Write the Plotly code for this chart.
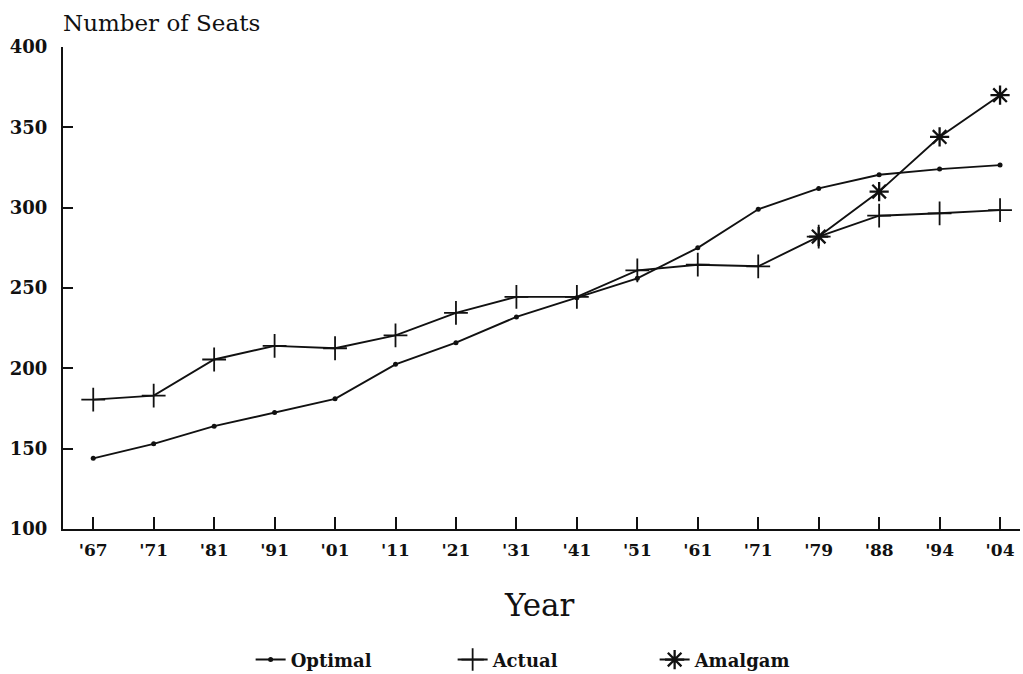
import plotly.graph_objects as go

years = ["1867", "1871", "1881", "1891", "1901", "1911", "1921", "1931",
         "1941", "1951", "1961", "1971", "1979", "1988", "1994", "2004"]
tick_labels = ["'67", "'71", "'81", "'91", "'01", "'11", "'21", "'31",
               "'41", "'51", "'61", "'71", "'79", "'88", "'94", "'04"]
optimal = [144, 153, 164, 172.5, 181, 202.5, 216, 232, 244, 256, 275, 299,
           312, 320.5, 324, 326.5]
actual = [180.5, 183, 205.5, 214, 212.5, 220.5, 234.5, 244.5, 244.5, 261,
          264.5, 263.5, 282, 295, 296.5, 298.5]
amalgam_years = ["1979", "1988", "1994", "2004"]
amalgam = [282, 310, 344, 370]

FONT = "DejaVu Serif"
BLACK = "#111111"

fig = go.Figure()
fig.add_trace(go.Scatter(
    x=years, y=optimal, name="Optimal", mode="lines+markers",
    line=dict(color=BLACK, width=1.9),
    marker=dict(symbol="circle", size=5, color=BLACK),
))
fig.add_trace(go.Scatter(
    x=years, y=actual, name="Actual", mode="lines+markers",
    line=dict(color=BLACK, width=1.9),
    marker=dict(symbol="cross-thin-open", size=17, color=BLACK,
                line=dict(color=BLACK, width=1.8)),
))
fig.add_trace(go.Scatter(
    x=amalgam_years, y=amalgam, name="Amalgam", mode="lines+markers",
    line=dict(color=BLACK, width=1.9),
    marker=dict(symbol="asterisk-open", size=16, color=BLACK,
                line=dict(color=BLACK, width=2.3)),
))

fig.update_layout(
    width=1023, height=674,
    margin=dict(l=63, r=3, t=47, b=145, autoexpand=False),
    paper_bgcolor="white", plot_bgcolor="white",
    font=dict(family=FONT, color=BLACK),
    showlegend=True,
    legend=dict(
        orientation="h", xref="container", yref="container",
        x=0.245, xanchor="left", y=0.021, yanchor="middle",
        font=dict(family=FONT, size=18, color=BLACK, weight="bold"),
        entrywidth=157, entrywidthmode="pixels", bgcolor="rgba(0,0,0,0)",
        traceorder="normal",
    ),
    xaxis=dict(
        type="category", categoryorder="array", categoryarray=years,
        range=[-0.5, 15.33],
        tickmode="array", tickvals=years, ticktext=tick_labels,
        ticks="inside", ticklen=12, tickwidth=1.8, tickcolor=BLACK,
        showline=True, linecolor=BLACK, linewidth=2,
        showgrid=False, zeroline=False,
        tickfont=dict(family=FONT, size=17, color=BLACK, weight="bold"),
        ticklabelstandoff=5,
    ),
    yaxis=dict(
        range=[100, 400], tickmode="array", tickvals=[100, 150, 200, 250, 300, 350, 400],
        ticks="inside", ticklen=10, tickwidth=1.8, tickcolor=BLACK,
        showline=True, linecolor=BLACK, linewidth=2,
        showgrid=False, zeroline=False,
        tickfont=dict(family=FONT, size=18, color=BLACK, weight="bold"),
        ticklabelstandoff=10,
    ),
    annotations=[
        dict(text="Number of Seats", xref="paper", yref="paper", x=-0.002, y=1.049,
             xanchor="left", yanchor="middle", showarrow=False,
             font=dict(family=FONT, size=23, color=BLACK)),
        dict(text="Year", xref="paper", yref="paper", x=0.498, y=-0.158,
             xanchor="center", yanchor="middle", showarrow=False,
             font=dict(family=FONT, size=31, color=BLACK)),
    ],
)

fig.write_html("out.html", config={"displayModeBar": False},
               post_script="document.body.style.margin='0';")
